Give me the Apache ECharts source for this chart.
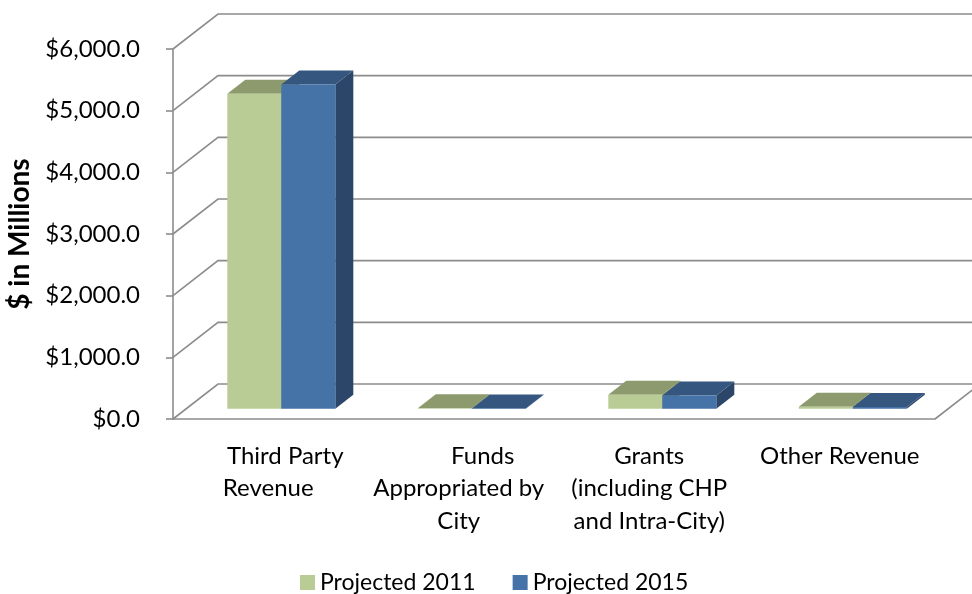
<!DOCTYPE html>
<html>
<head>
<meta charset="utf-8">
<script src="https://cdn.jsdelivr.net/npm/echarts@6/dist/echarts.min.js"></script>
<style>
html,body{margin:0;padding:0;background:#fff;}
#chart{width:972px;height:594px;}
</style>
</head>
<body>
<div id="chart"></div>
<script>
// ---- data ----
const categories = ['Third Party\nRevenue', 'Funds\nAppropriated by\nCity', 'Grants\n(including CHP\nand Intra-City)', 'Other Revenue'];
const seriesNames = ['Projected 2011', 'Projected 2015'];
const projected2011 = [5110, 8, 230, 35];
const projected2015 = [5260, 5, 215, 30];
const yTicks = [0, 1000, 2000, 3000, 4000, 5000, 6000];

// ---- style constants ----
const FONT = 'Lato';
const GRID_COLOR = '#8c8c8c';
const WALL = [45, -35];          // depth of the 3D box
const BAR_FRONT = 0.29;          // bar front plane (fraction of depth)
const BAR_BACK = 0.69;           // bar back plane
const BAR_FRAC = 0.2835;         // bar width relative to category band
const palette = [
  {front: '#bacc95', top: '#8c9a6d', side: '#7d8b5f'},
  {front: '#4572a7', top: '#34567f', side: '#2c4669'}
];

const chart = echarts.init(document.getElementById('chart'));

function gridRender(params, api) {
  const cs = params.coordSys;
  const v = api.value(1);
  const y = api.coord([0, v])[1];
  const x0 = cs.x, x1 = cs.x + cs.width;
  const children = [{
    type: 'polyline',
    shape: {points: [[x0, y], [x0 + WALL[0], y + WALL[1]], [x1 + WALL[0], y + WALL[1]]]},
    style: {stroke: GRID_COLOR, lineWidth: 1.6, fill: null}
  }];
  if (v === 0) {
    children.push({
      type: 'line',
      shape: {x1: x1, y1: y, x2: x1 + WALL[0], y2: y + WALL[1]},
      style: {stroke: GRID_COLOR, lineWidth: 1.6}
    });
  }
  return {type: 'group', children: children};
}

function barRender(sIdx) {
  return function (params, api) {
    const cat = api.value(0), val = api.value(1);
    const base = api.coord([cat, 0]);
    const top = api.coord([cat, val]);
    const band = api.size([1, 0])[0];
    const bw = band * BAR_FRAC;
    const fdx = WALL[0] * BAR_FRONT, fdy = WALL[1] * BAR_FRONT;
    const ddx = WALL[0] * (BAR_BACK - BAR_FRONT), ddy = WALL[1] * (BAR_BACK - BAR_FRONT);
    const xl = base[0] - bw + sIdx * bw + fdx;
    const xr = xl + bw;
    const yb = base[1] + fdy;
    const yt = top[1] + fdy;
    const c = palette[sIdx];
    return {
      type: 'group',
      children: [
        {type: 'polygon', shape: {points: [[xr, yt], [xr + ddx, yt + ddy], [xr + ddx, yb + ddy], [xr, yb]]},
          style: {fill: c.side}},
        {type: 'polygon', shape: {points: [[xl, yt], [xr, yt], [xr + ddx, yt + ddy], [xl + ddx, yt + ddy]]},
          style: {fill: c.top}},
        {type: 'rect', shape: {x: xl, y: yt, width: bw, height: Math.max(yb - yt, 0.5)},
          style: {fill: c.front}}
      ]
    };
  };
}

const LABEL_SIZE = 24;

const option = {
  animation: false,
  backgroundColor: '#ffffff',
  textStyle: {fontFamily: FONT},
  grid: {left: 173, right: 37, top: 49, bottom: 175, containLabel: false, outerBoundsMode: 'none'},
  legend: {
    data: seriesNames,
    left: 295,
    top: 566,
    icon: 'rect',
    itemWidth: 15,
    itemHeight: 15,
    itemGap: 37,
    textStyle: {fontFamily: FONT, fontSize: 23, color: '#000'}
  },
  xAxis: {
    type: 'category',
    data: categories,
    axisLine: {lineStyle: {color: GRID_COLOR, width: 1.6}},
    axisTick: {length: 9, lineStyle: {color: GRID_COLOR, width: 1.6}},
    axisLabel: {
      interval: 0,
      margin: 21,
      formatter: function (v, i) {
        const lines = v.split('\n');
        return lines.map((l, k) => {
          if (k === 0 && i === 0) return '{s|' + l + '}';
          if (k === 0 && i === 1) return '{s2|' + l + '}';
          return '{n|' + l + '}';
        }).join('\n');
      },
      rich: {
        n: {fontFamily: FONT, fontSize: LABEL_SIZE, color: '#000', lineHeight: 32.5},
        s: {fontFamily: FONT, fontSize: LABEL_SIZE, color: '#000', lineHeight: 32.5, padding: [0, 0, 0, 34]},
        s2: {fontFamily: FONT, fontSize: LABEL_SIZE, color: '#000', lineHeight: 32.5, padding: [0, 0, 0, 48]}
      }
    }
  },
  yAxis: {
    type: 'value',
    min: 0,
    max: 6000,
    interval: 1000,
    name: '$ in Millions',
    nameLocation: 'middle',
    nameRotate: 90,
    nameGap: 136,
    nameTextStyle: {fontFamily: FONT, fontSize: 28, fontWeight: 'bold', color: '#000'},
    axisLine: {show: true, lineStyle: {color: GRID_COLOR, width: 1.6}},
    axisTick: {show: true, length: 7, lineStyle: {color: GRID_COLOR, width: 1.6}},
    splitLine: {show: false},
    axisLabel: {
      margin: 33,
      fontFamily: FONT,
      fontSize: 24,
      color: '#000',
      formatter: function (v) {
        return '$' + v.toLocaleString('en-US', {minimumFractionDigits: 1, maximumFractionDigits: 1});
      }
    }
  },
  series: [
    {
      type: 'custom',
      name: 'grid',
      renderItem: gridRender,
      clip: false,
      silent: true,
      z: 1,
      data: yTicks.map(v => [0, v])
    },
    {
      type: 'custom',
      name: seriesNames[0],
      renderItem: barRender(0),
      clip: false,
      z: 2,
      itemStyle: {color: palette[0].front},
      data: projected2011.map((v, i) => [i, v])
    },
    {
      type: 'custom',
      name: seriesNames[1],
      renderItem: barRender(1),
      clip: false,
      z: 3,
      itemStyle: {color: palette[1].front},
      data: projected2015.map((v, i) => [i, v])
    }
  ]
};

chart.setOption(option);
</script>
</body>
</html>
